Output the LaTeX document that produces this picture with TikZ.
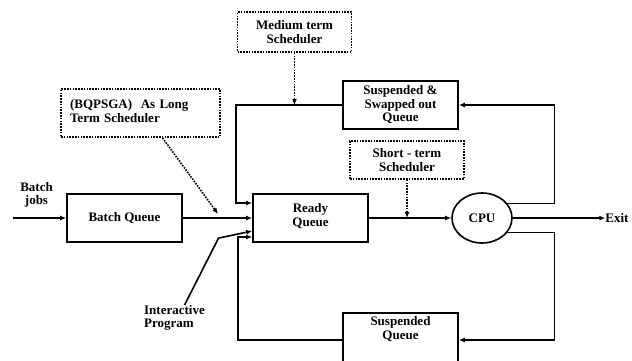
\documentclass[tikz,border=0pt]{standalone}
\usepackage{fontspec}
\setmainfont{Liberation Serif}
\usetikzlibrary{positioning,shapes.geometric,arrows.meta}

\begin{document}
\begin{tikzpicture}[node distance=180pt, >={Latex[length=6pt,width=5pt]},
  every node/.style={font=\bfseries\fontsize{13}{13.5}\selectfont},
  qbox/.style={draw,line width=1.6pt,minimum width=115pt,minimum height=48pt,align=center,inner sep=3pt},
  sched/.style={draw,line width=1.6pt,dash pattern=on 1.6pt off 1.2pt,minimum width=114pt,align=center,inner sep=3pt},
  proc/.style={draw,ellipse,line width=1.6pt,minimum width=60pt,minimum height=50pt,inner sep=0pt},
  plain/.style={align=center,inner sep=0pt},
  flow/.style={line width=1.6pt,->},
  hint/.style={line width=1.6pt,dash pattern=on 1.6pt off 1.2pt,->}]
  \useasboundingbox (0,0) rectangle (632pt,-360pt);
  % queues and the cpu
  \node (batch) [qbox] at (124.5pt,-218pt) {Batch Queue};
  \node (ready) [qbox,right of=batch,xshift=6pt,text depth=6pt] {Ready\\Queue};
  \node (cpu) [proc,right of=ready,xshift=-8.5pt] {CPU};
  \node (swapped) [qbox,node distance=113pt,above of=ready,xshift=90pt] {Suspended \&\\Swapped out\\Queue};
  \node (susp) [qbox,node distance=122pt,below of=ready,xshift=90pt,minimum height=54pt,text depth=24pt] {Suspended\\Queue};
  % schedulers
  \node (medium) [sched,node distance=73pt,above of=swapped,xshift=-106pt,minimum height=40pt] {Medium term\\Scheduler};
  \node (short) [sched,node distance=55pt,below of=swapped,xshift=6.5pt,minimum height=38pt] {Short - term\\Scheduler};
  \node (longterm) [sched,node distance=105pt,above of=batch,xshift=16pt,minimum width=159pt,minimum height=48pt,inner xsep=9pt,text width=141pt,align=left,text depth=18pt] {(BQPSGA)~ As Long\\Term Scheduler};
  % plain labels
  \node (jobs) [plain,node distance=88pt,left of=batch,yshift=23pt] {Batch\\jobs};
  \node (inter) [plain,node distance=100pt,below of=batch,xshift=50pt,align=left] {Interactive\\Program};
  \node (exit) [plain,node distance=135pt,right of=cpu] {Exit};
  \coordinate (jobsin) at (13pt,-218pt);
  \coordinate (ltend) at (218pt,-214pt);
  % connectors
  \draw[flow] (jobsin) -- (batch);
  \draw[flow] (batch) -- (ready);
  \draw[flow] (ready) -- (cpu);
  \draw[flow] (cpu) -- (exit);
  \draw[flow] (swapped.west) -- ++(-106pt,0) |- ([yshift=15pt]ready.west);
  \draw[flow] ([xshift=10pt]inter.north) -- ++(34pt,67pt) -- ([yshift=-13pt]ready.west);
  \draw[flow] (susp.west) -- ++(-104pt,0) |- ([yshift=-19pt]ready.west);
  \draw[flow] (cpu.30) -- ++(47pt,0) |- (swapped.east);
  \draw[flow] (cpu.-30) -- ++(47pt,0) |- (susp.east);
  \draw[hint] (medium.south) -- (medium.south |- swapped.west);
  \draw[hint] (short.south) -- (short.south |- ready.east);
  \draw[hint] ([xshift=22pt]longterm.south) -- (ltend);
\end{tikzpicture}
\end{document}
